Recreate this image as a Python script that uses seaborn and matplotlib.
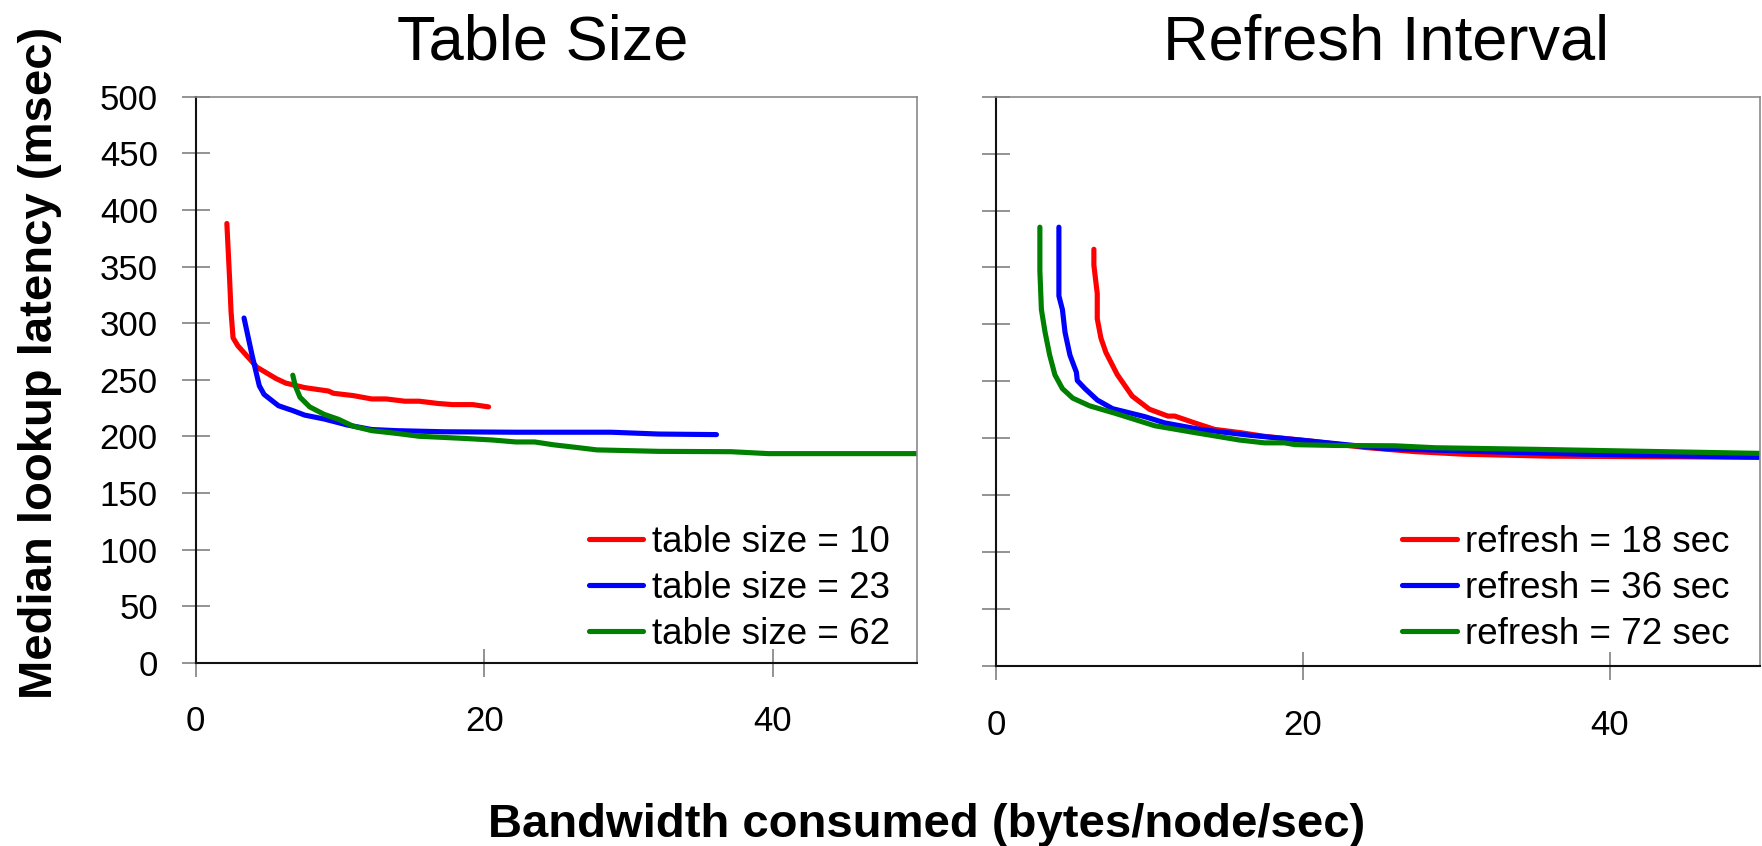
import matplotlib
matplotlib.use("Agg")
import matplotlib.pyplot as plt
import seaborn as sns
import pandas as pd

# ---------------- data ----------------
ts10_x = [2.16, 2.35, 2.45, 2.59, 2.92, 4.25, 5.57, 6.24, 7.56, 9.2, 9.55, 10.9, 12.2, 13.2, 14.5, 15.5, 16.8, 17.8, 19.2, 20.3]
ts10_y = [388, 339, 310, 287, 280, 261, 251, 247, 243, 240, 238, 236, 233, 233, 231, 231, 229, 228, 228, 226]

ts23_x = [3.35, 3.91, 4.41, 4.74, 5.74, 6.73, 7.56, 8.9, 10.5, 12.2, 13.9, 17.2, 22.2, 28.8, 32.1, 36.1]
ts23_y = [304.5, 271.5, 244.6, 237, 227, 222.7, 218.7, 215.3, 210, 206, 205, 204, 203.6, 203.6, 202, 201.5]

ts62_x = [6.73, 6.9, 7.23, 7.9, 8.9, 9.9, 10.9, 12.2, 13.9, 15.5, 17.2, 18.8, 20.5, 22.2, 23.5, 24.8, 26.5, 27.8, 32.1, 37.1, 39.7, 50.2]
ts62_y = [254, 244.6, 234.5, 226, 219.4, 215, 209, 205, 202.6, 200, 199, 198, 196.8, 195, 195, 192.5, 190, 188, 186.7, 186.4, 184.7, 184.7]

r18_x = [6.38, 6.38, 6.6, 6.6, 6.84, 7.16, 7.9, 8.88, 10.0, 11.2, 11.65, 12.95, 14.25, 15.9, 17.5, 20.4, 24.0, 27.3, 30.5, 36.1, 50.0]
r18_y = [366, 352, 327, 305, 288, 275.5, 256, 237, 225.5, 219.5, 219.5, 213.5, 207.8, 205, 201.7, 197.7, 192, 188.3, 186, 184.3, 183.3]

r36_x = [4.1, 4.1, 4.33, 4.5, 4.82, 5.24, 5.3, 5.8, 6.6, 7.6, 9.7, 11.0, 13.3, 16.5, 20.4, 25.3, 31.8, 38.3, 50.0]
r36_y = [385.4, 325, 313, 293, 273, 258, 250.7, 243.6, 233.6, 226, 219, 213.5, 207.8, 202.7, 197.7, 191, 188.3, 186, 183.3]

r72_x = [2.86, 2.86, 2.96, 3.2, 3.5, 3.84, 4.33, 5.0, 6.1, 7.75, 10.35, 12.95, 15.9, 17.5, 18.8, 19.5, 22.1, 26.0, 28.6, 31.8, 35.1, 41.6, 50.0]
r72_y = [385.4, 347, 313, 293, 273, 255.7, 243.6, 235.3, 228.5, 222, 211, 205, 198.4, 196, 196, 194.4, 193.7, 193.4, 191.7, 191, 190.3, 188.7, 186.7]

left_labels = ["table size = 10", "table size = 23", "table size = 62"]
right_labels = ["refresh = 18 sec", "refresh = 36 sec", "refresh = 72 sec"]
titles = ["Table Size", "Refresh Interval"]
y_ticks = [0, 50, 100, 150, 200, 250, 300, 350, 400, 450, 500]
x_ticks = [0, 20, 40]
colors = ["#ff0000", "#0000ff", "#008000"]

# ---------------- style ----------------
sns.set_theme(style="white")
FAM = ["Liberation Sans", "DejaVu Sans"]
plt.rcParams["font.family"] = FAM
plt.rcParams["text.color"] = "black"
plt.rcParams["xtick.color"] = "#808080"
plt.rcParams["ytick.color"] = "#808080"
plt.rcParams["xtick.labelcolor"] = "black"
plt.rcParams["ytick.labelcolor"] = "black"


def make_df(xs, ys, labels):
    rows = []
    for x, y, lab in zip(xs, ys, labels):
        for i, (a, b) in enumerate(zip(x, y)):
            rows.append({"x": a, "y": b, "series": lab, "order": i})
    return pd.DataFrame(rows)


df_left = make_df([ts10_x, ts23_x, ts62_x], [ts10_y, ts23_y, ts62_y], left_labels)
df_right = make_df([r18_x, r36_x, r72_x], [r18_y, r36_y, r72_y], right_labels)

W, H = 1762, 846
fig = plt.figure(figsize=(W / 100, H / 100), dpi=100)
ax1 = fig.add_axes([195.7 / W, 1 - 662.7 / H, (917 - 195.7) / W, (662.7 - 96.7) / H])
ax2 = fig.add_axes([996 / W, 1 - 666 / H, (1760 - 996) / W, (666 - 96.7) / H])

panels = [
    (ax1, df_left, left_labels, 50.0, True, (0.9626, 0.019)),
    (ax2, df_right, right_labels, 49.8, False, (0.9607, 0.025)),
]
for ax, df, labels, xmax, show_ylab, anchor in panels:
    sns.lineplot(data=df, x="x", y="y", hue="series", hue_order=labels,
                 palette=colors, sort=False, estimator=None, linewidth=3.7, ax=ax)
    ax.set_xlim(0, xmax)
    ax.set_ylim(0, 500)
    ax.set_xticks(x_ticks)
    ax.set_yticks(y_ticks)
    ax.set_xlabel("")
    ax.set_ylabel("")
    for s in ["top", "right"]:
        ax.spines[s].set_color("#8a8a8a")
        ax.spines[s].set_linewidth(1.2)
    for s in ["left", "bottom"]:
        ax.spines[s].set_color("#111111")
        ax.spines[s].set_linewidth(1.5)
    ax.tick_params(axis="both", direction="inout", length=19.5, width=1.2,
                   left=True, bottom=True)
    ax.tick_params(axis="x", pad=21, labelsize=25)
    ax.tick_params(axis="y", pad=17.5, labelsize=25)
    if not show_ylab:
        ax.set_yticklabels([])
    leg = ax.legend(loc="lower right", bbox_to_anchor=anchor, frameon=False,
                    borderaxespad=0, borderpad=0,
                    handlelength=1.47, handletextpad=0.24, labelspacing=0.3,
                    prop={"family": FAM, "size": 26.5})
    for h in leg.get_lines():
        h.set_linewidth(3.7)

fig.text(542.5 / W, 1 - 60 / H, titles[0], ha="center", va="baseline", fontsize=45.5)
fig.text(1386 / W, 1 - 60 / H, titles[1], ha="center", va="baseline", fontsize=45.5)

fig.text(52 / W, 1 - 362.5 / H, "Median lookup latency (msec)", rotation=90,
         rotation_mode="anchor", ha="center", va="baseline",
         fontsize=34, fontweight="bold")
fig.text(927 / W, 1 - 837 / H, "Bandwidth consumed (bytes/node/sec)", ha="center",
         va="baseline", fontsize=34, fontweight="bold")

fig.savefig("out.png", dpi=100, facecolor="white")
